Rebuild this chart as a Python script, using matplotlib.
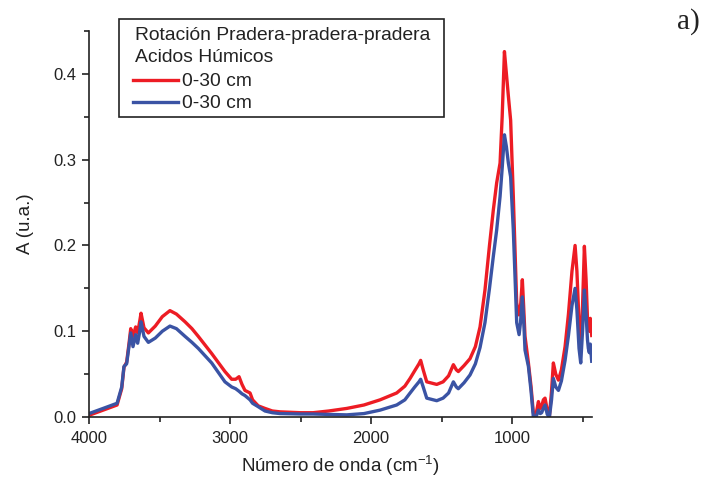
import matplotlib
matplotlib.use("Agg")
import matplotlib.pyplot as plt
from matplotlib.lines import Line2D
from matplotlib.patches import Rectangle
from matplotlib.ticker import MultipleLocator

plt.rcParams['font.family'] = ['Liberation Sans', 'DejaVu Sans']
plt.rcParams['mathtext.fontset'] = 'custom'
plt.rcParams['mathtext.rm'] = 'Liberation Sans'
plt.rcParams['mathtext.it'] = 'Liberation Sans'

# ---- data ----
wn_red = [4000, 3900, 3801, 3768, 3752, 3733, 3716, 3704, 3688, 3669, 3655, 3640, 3631,
          3610, 3579, 3530, 3480, 3426, 3380, 3319, 3270, 3225, 3130, 3036, 2988, 2960,
          2936, 2915, 2894, 2858, 2840, 2800, 2752, 2700, 2645, 2500, 2411, 2300, 2172,
          2050, 1936, 1818, 1760, 1723, 1690, 1660, 1648, 1630, 1605, 1534, 1489, 1450,
          1416, 1395, 1381, 1340, 1298, 1260, 1227, 1192, 1160, 1133, 1109, 1085, 1070,
          1054, 1040, 1026, 1010, 991, 967, 950, 940, 927, 918, 908, 884, 865, 849, 830,
          813, 800, 790, 778, 766, 750, 735, 720, 707, 690, 671, 650, 624, 600, 575, 553,
          540, 525, 513, 500, 487, 475, 465, 459, 452, 445, 435]
abs_red = [0.002, 0.008, 0.014, 0.033, 0.058, 0.064, 0.086, 0.103, 0.094, 0.105, 0.098, 0.112, 0.121,
           0.104, 0.098, 0.106, 0.117, 0.124, 0.120, 0.111, 0.103, 0.094, 0.074, 0.053, 0.044, 0.044,
           0.047, 0.038, 0.031, 0.028, 0.020, 0.013, 0.010, 0.007, 0.006, 0.005, 0.005, 0.007, 0.010,
           0.014, 0.020, 0.028, 0.036, 0.045, 0.054, 0.062, 0.066, 0.055, 0.041, 0.038, 0.041, 0.048,
           0.061, 0.055, 0.053, 0.060, 0.068, 0.082, 0.105, 0.148, 0.200, 0.241, 0.273, 0.296, 0.350,
           0.426, 0.400, 0.374, 0.346, 0.257, 0.133, 0.119, 0.128, 0.160, 0.130, 0.094, 0.063, 0.035, 0.005, 0.003,
           0.018, 0.010, 0.012, 0.020, 0.022, 0.008, 0.001, 0.030, 0.063, 0.050, 0.043, 0.055, 0.082, 0.120, 0.170, 0.200,
           0.170, 0.110, 0.078, 0.130, 0.199, 0.160, 0.115, 0.115, 0.100, 0.115, 0.095]

wn_blue = wn_red
abs_blue = [0.004, 0.010, 0.016, 0.035, 0.059, 0.062, 0.083, 0.098, 0.082, 0.096, 0.086, 0.100, 0.111,
            0.094, 0.087, 0.092, 0.100, 0.106, 0.103, 0.094, 0.087, 0.080, 0.063, 0.041, 0.035, 0.033,
            0.030, 0.027, 0.025, 0.020, 0.016, 0.012, 0.007, 0.005, 0.004, 0.0035, 0.0035, 0.003, 0.0025,
            0.004, 0.008, 0.014, 0.020, 0.028, 0.035, 0.041, 0.044, 0.035, 0.022, 0.019, 0.022, 0.028,
            0.041, 0.035, 0.033, 0.040, 0.049, 0.062, 0.081, 0.110, 0.150, 0.187, 0.218, 0.257, 0.290,
            0.329, 0.315, 0.296, 0.280, 0.218, 0.110, 0.096, 0.110, 0.140, 0.115, 0.078, 0.059, 0.030, 0.000, 0.000,
            0.008, 0.004, 0.005, 0.010, 0.014, 0.003, 0.000, 0.020, 0.045, 0.035, 0.031, 0.042, 0.066, 0.095, 0.130, 0.150,
            0.125, 0.080, 0.063, 0.100, 0.148, 0.120, 0.090, 0.080, 0.075, 0.085, 0.065]

legend_title = ["Rotación Pradera-pradera-pradera", "Acidos Húmicos"]
series_labels = ["0-30 cm", "0-30 cm"]
red = '#ED1C24'
blue = '#3A53A4'

fig = plt.figure(figsize=(7.03, 4.79), dpi=100)
ax = fig.add_axes([89/703, 62/479, 503/703, 386/479])

ax.plot(wn_red, abs_red, color=red, lw=2.4, solid_joinstyle='round')
ax.plot(wn_blue, abs_blue, color=blue, lw=2.4, solid_joinstyle='round')

ax.set_xlim(4000, 433)
ax.set_ylim(0, 0.45)
ax.xaxis.set_major_locator(MultipleLocator(1000))
ax.xaxis.set_minor_locator(MultipleLocator(500))
ax.yaxis.set_major_locator(MultipleLocator(0.1))
ax.yaxis.set_minor_locator(MultipleLocator(0.05))
ax.yaxis.set_major_formatter(plt.FuncFormatter(lambda v, p: f"{v:.1f}"))
for s in ['top', 'right']:
    ax.spines[s].set_visible(False)
for s in ['left', 'bottom']:
    ax.spines[s].set_linewidth(1.2)
    ax.spines[s].set_color('#222222')
ax.tick_params(which='major', direction='out', length=5, width=1.2, labelsize=12, colors='#222222')
ax.tick_params(which='minor', direction='out', length=3.5, width=1.2, colors='#222222')
ax.tick_params(axis='x', pad=5)
ax.tick_params(axis='y', pad=4)

ax.set_xlabel('Número de onda (cm$^{-1}$)', fontsize=13.5, color='#222222', labelpad=6)
ax.set_ylabel('A (u.a.)', fontsize=13.5, color='#222222', labelpad=14)

# legend box (figure coordinates)
W, H = 703, 479
fig.patches.append(Rectangle((119/W, 1 - 117/H), (444-119)/W, (117-19)/H,
                             transform=fig.transFigure, fill=False, ec='#222222', lw=1.2))
fig.text(135/W, 1 - 35/H, legend_title[0], fontsize=13.9, va='center', ha='left', color='#222222')
fig.text(135/W, 1 - 57/H, legend_title[1], fontsize=13.9, va='center', ha='left', color='#222222')
for i, (lab, col) in enumerate(zip(series_labels, [red, blue])):
    yy = 1 - (80 + 22*i)/H
    fig.lines.append(Line2D([133/W, 178/W], [yy, yy], transform=fig.transFigure, color=col, lw=2.4))
    fig.text(182/W, yy - 1/H, lab, fontsize=13.9, va='center', ha='left', color='#222222')

fig.text(677/W, 1 - 22/H, 'a)', fontsize=21, family='Liberation Serif', va='center', ha='left', color='#222222')

fig.savefig('out.png', dpi=100)
